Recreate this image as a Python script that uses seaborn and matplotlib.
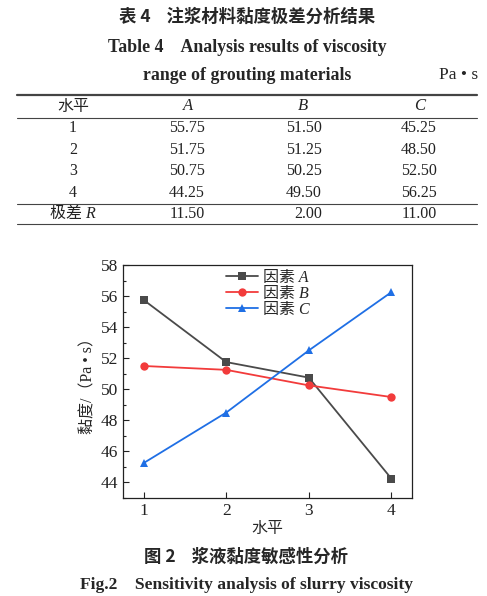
import numpy as np
import pandas as pd
import matplotlib
matplotlib.use("Agg")
import matplotlib.pyplot as plt
import seaborn as sns
from matplotlib.lines import Line2D
from matplotlib.ticker import MultipleLocator
from matplotlib.font_manager import FontProperties

# data
levels = [1, 2, 3, 4]
factor_a = [55.75, 51.75, 50.75, 44.25]
factor_b = [51.50, 51.25, 50.25, 49.50]
factor_c = [45.25, 48.50, 52.50, 56.25]
range_r = [11.50, 2.00, 11.00]
factor_names = ["因素 A", "因素 B", "因素 C"]
col_heads = ["A", "B", "C"]

sns.set_theme(style="ticks")
fam = ["Liberation Serif", "Noto Sans CJK SC"]
plt.rcParams["font.family"] = fam

W, H = 487, 596
fig = plt.figure(figsize=(W / 100, H / 100), dpi=100)


def fx(px):
    return px / W


def fy(py):
    return 1 - py / H


def hline(y, x0=17, x1=477, lw=1.0, color="#444444"):
    fig.add_artist(Line2D([fx(x0), fx(x1)], [fy(y), fy(y)], lw=lw, color=color,
                          transform=fig.transFigure))


# table title
fig.text(fx(247), fy(17), "表 4    注浆材料黏度极差分析结果", ha="center", va="center",
         fontsize=12.5, fontweight="bold", family=["Noto Sans CJK SC"])
fig.text(fx(247), fy(47), "Table 4    Analysis results of viscosity", ha="center", va="center",
         fontsize=12.8, fontweight="bold")
fig.text(fx(247), fy(75), "range of grouting materials", ha="center", va="center",
         fontsize=12.8, fontweight="bold")
fig.text(fx(478), fy(75), "Pa • s", ha="right", va="center", fontsize=12.5)

# table body
hline(95, lw=1.6)
hline(118, lw=0.8)
hline(204, lw=0.8)
hline(224, lw=0.8)

tc = "#222222"
fig.text(fx(73), fy(106), "水平", ha="center", va="center", fontsize=11.5, color=tc,
         family=["Noto Sans CJK SC"])
for x, h in zip([188, 303, 420], col_heads):
    fig.text(fx(x), fy(106), h, ha="center", va="center", fontsize=12, style="italic", color=tc)

rows_y = [128, 150, 171, 193]
right_x = [205, 322, 437]
for i, y in enumerate(rows_y):
    fig.text(fx(73), fy(y), str(levels[i]), ha="center", va="center", fontsize=11.5, color=tc)
    for x, vals in zip(right_x, [factor_a, factor_b, factor_c]):
        fig.text(fx(x), fy(y), f"{vals[i]:.2f}", ha="right", va="center", fontsize=11.5, color=tc)

fig.text(fx(73), fy(214), "极差 R", ha="center", va="center", fontsize=11.5, color=tc,
         family=fam, style="italic")
for x, v in zip(right_x, range_r):
    fig.text(fx(x), fy(214), f"{v:.2f}", ha="right", va="center", fontsize=11.5, color=tc)

# chart
df = pd.DataFrame({
    "水平": levels * 3,
    "黏度": factor_a + factor_b + factor_c,
    "因素": np.repeat(factor_names, len(levels)),
})
palette = dict(zip(factor_names, ["#4a4a4a", "#f23b3b", "#1f6fe5"]))
markers = dict(zip(factor_names, ["s", "o", "^"]))

ax = fig.add_axes([fx(123), fy(498), fx(412) - fx(123), fy(265) - fy(498)])
sns.lineplot(data=df, x="水平", y="黏度", hue="因素", style="因素", palette=palette,
             markers=markers, dashes=False, markersize=6, markeredgewidth=0,
             linewidth=1.3, ax=ax)

ax.set_xlim(0.75, 4.25)
ax.set_ylim(43, 58)
ax.set_xticks(levels)
ax.yaxis.set_major_locator(MultipleLocator(2))
ax.yaxis.set_minor_locator(MultipleLocator(1))
ax.tick_params(axis="both", which="both", direction="in", labelsize=12.5, colors="#222222")
ax.tick_params(axis="both", which="major", length=4, width=0.8)
ax.tick_params(axis="y", which="minor", length=2.5, width=0.8)
for s in ax.spines.values():
    s.set_visible(True)
    s.set_linewidth(0.9)
    s.set_color("#222222")
ax.set_xlabel("水平", fontsize=11.5, family=["Noto Sans CJK SC"], labelpad=1)
ax.set_ylabel("黏度/（Pa • s）", fontsize=11.5, labelpad=3)

leg_font = FontProperties(family=fam, style="italic", size=11.5)
leg = ax.legend(loc="upper center", bbox_to_anchor=(0.5, 1.02), frameon=False, prop=leg_font,
                handlelength=2.0, handletextpad=0.3, labelspacing=0.0, borderaxespad=0.2)

# figure caption
fig.text(fx(246), fy(557), "图 2    浆液黏度敏感性分析", ha="center", va="center",
         fontsize=12.5, fontweight="bold", family=["Noto Sans CJK SC"])
fig.text(fx(247), fy(585), "Fig.2    Sensitivity analysis of slurry viscosity", ha="center",
         va="center", fontsize=12.6, fontweight="bold")

fig.savefig("out.png", dpi=100)
